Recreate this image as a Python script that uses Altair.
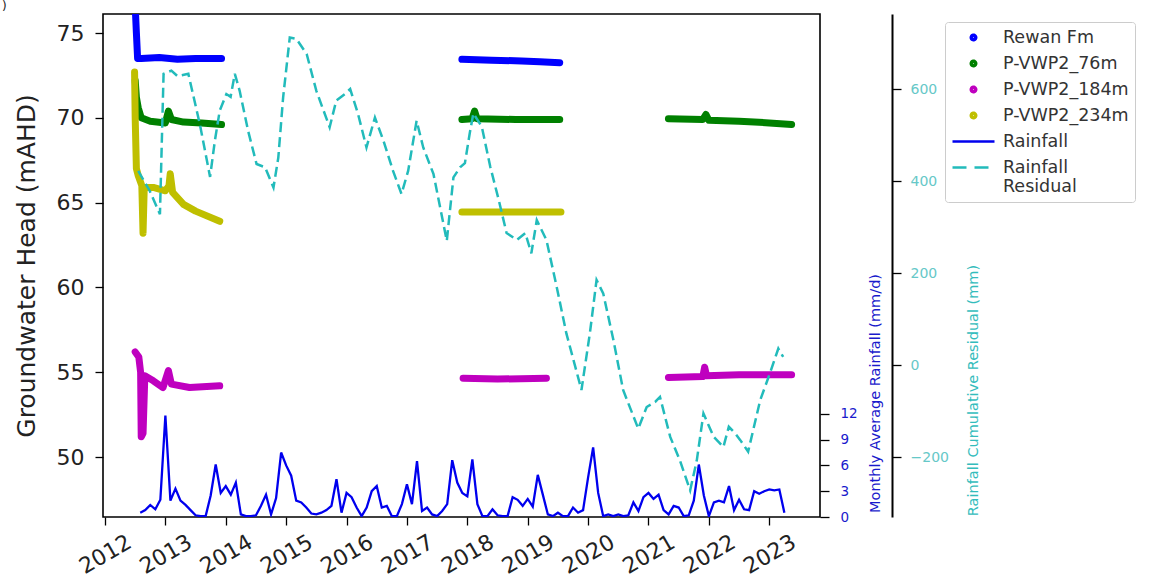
import altair as alt
import pandas as pd

FONT = "DejaVu Sans"

# ---------------------------------------------------------------------------
# Groundwater heads (decimal year, head in mAHD), one pair of lists per
# logger deployment
# ---------------------------------------------------------------------------
rewan_a_t = [2012.50, 2012.52, 2012.54, 2012.60, 2012.9, 2013.2, 2013.5, 2013.93]
rewan_a_v = [76.6, 75.0, 73.5, 73.5, 73.55, 73.45, 73.5, 73.5]
rewan_b_t = [2017.91, 2018.4, 2018.9, 2019.2, 2019.53]
rewan_b_v = [73.45, 73.4, 73.35, 73.3, 73.25]

vwp76_a_t = [2012.50, 2012.52, 2012.55, 2012.60, 2012.75, 2013.0, 2013.05, 2013.1, 2013.3, 2013.6, 2013.93]
vwp76_a_v = [72.2, 71.2, 70.6, 70.0, 69.8, 69.7, 70.4, 69.9, 69.75, 69.7, 69.6]
vwp76_b_t = [2017.91, 2018.08, 2018.12, 2018.16, 2018.8, 2019.53]
vwp76_b_v = [69.9, 69.95, 70.4, 69.95, 69.9, 69.9]
vwp76_c_t = [2021.33, 2021.9, 2021.95, 2022.0, 2022.5, 2023.0, 2023.37]
vwp76_c_v = [69.95, 69.9, 70.2, 69.85, 69.8, 69.7, 69.6]

vwp184_a_t = [2012.50, 2012.56, 2012.59, 2012.60, 2012.63, 2012.66, 2012.8, 2012.96, 2013.05, 2013.1, 2013.4, 2013.9]
vwp184_a_v = [56.2, 55.9, 55.0, 51.2, 51.4, 54.8, 54.5, 54.1, 55.1, 54.3, 54.1, 54.2]
vwp184_b_t = [2017.93, 2018.5, 2019.31]
vwp184_b_v = [54.65, 54.6, 54.65]
vwp184_c_t = [2021.33, 2021.9, 2021.93, 2021.96, 2022.5, 2023.37]
vwp184_c_v = [54.7, 54.75, 55.3, 54.8, 54.85, 54.85]

vwp234_a_t = [2012.49, 2012.50, 2012.52, 2012.55, 2012.61, 2012.63, 2012.65, 2012.8, 2013.0, 2013.06, 2013.08, 2013.12, 2013.3, 2013.5, 2013.9]
vwp234_a_v = [72.7, 70.0, 67.0, 66.6, 66.0, 63.2, 65.9, 65.9, 65.7, 66.0, 66.7, 65.6, 64.9, 64.5, 63.9]
vwp234_b_t = [2017.91, 2018.7, 2019.55]
vwp234_b_v = [64.45, 64.45, 64.45]

# ---------------------------------------------------------------------------
# Monthly average rainfall (mm/d), Aug 2012 .. Apr 2023
# ---------------------------------------------------------------------------
rain_start = 2012 + 7 / 12
rain_mm_d = [
    0.5, 0.8, 1.4, 0.9, 2.0,                                        # 2012 Aug-Dec
    11.8, 1.9, 3.3, 1.9, 1.4, 0.8, 0.2, 0.1, 0.1, 2.5, 6.1, 2.8,    # 2013
    3.6, 2.6, 4.0, 0.3, 0.1, 0.1, 0.2, 1.3, 2.6, 0.3, 2.2, 7.5,     # 2014
    6.0, 4.8, 1.9, 1.7, 1.1, 0.4, 0.3, 0.5, 0.8, 1.3, 4.4, 0.5,     # 2015
    2.8, 2.3, 1.1, 0.1, 1.1, 3.0, 3.6, 1.1, 1.3, 0.1, 0.1, 1.5,     # 2016
    3.8, 1.5, 6.5, 0.7, 1.1, 0.3, 0.1, 0.7, 1.5, 6.6, 4.0, 2.8,     # 2017
    2.4, 6.7, 1.5, 0.1, 0.1, 0.9, 0.2, 0.1, 0.1, 2.3, 2.0, 1.3,     # 2018
    2.1, 1.2, 4.9, 2.6, 0.3, 0.1, 0.5, 0.1, 0.1, 1.1, 0.5, 0.8,     # 2019
    4.6, 8.1, 2.8, 0.1, 0.3, 0.1, 0.3, 0.1, 0.2, 1.7, 0.7, 2.3,     # 2020
    2.8, 2.1, 2.6, 0.8, 0.3, 1.3, 1.1, 0.1, 0.2, 1.9, 6.1, 2.5,     # 2021
    0.1, 1.7, 1.9, 1.7, 3.6, 0.8, 2.0, 0.9, 0.8, 3.0, 2.7, 3.0,     # 2022
    3.2, 3.1, 3.2, 0.5,                                             # 2023 Jan-Apr
]

# ---------------------------------------------------------------------------
# Rainfall cumulative residual (decimal year, mm)
# ---------------------------------------------------------------------------
resid_t = [
    2012.55, 2012.74, 2012.91, 2012.97, 2013.10, 2013.20, 2013.38, 2013.57, 2013.74, 2013.82,
    2013.90, 2014.01, 2014.08, 2014.15, 2014.23, 2014.37, 2014.51, 2014.65, 2014.79, 2014.87,
    2014.95, 2015.06, 2015.17, 2015.34, 2015.50, 2015.72, 2015.83, 2015.97, 2016.06, 2016.19,
    2016.33, 2016.47, 2016.61, 2016.77, 2016.91, 2017.02, 2017.16, 2017.27, 2017.44, 2017.66,
    2017.77, 2017.88, 2017.96, 2018.04, 2018.10, 2018.24, 2018.38, 2018.52, 2018.65, 2018.82,
    2018.96, 2019.06, 2019.15, 2019.31, 2019.48, 2019.64, 2019.89, 2020.03, 2020.14, 2020.25,
    2020.42, 2020.58, 2020.83, 2020.97, 2021.11, 2021.19, 2021.36, 2021.52, 2021.69, 2021.80,
    2021.91, 2022.08, 2022.24, 2022.33, 2022.44, 2022.52, 2022.65, 2022.85, 2023.01, 2023.15,
    2023.23,
]
resid_mm = [
    422, 379, 328, 633, 640, 628, 633, 524, 409, 488,
    553, 589, 583, 633, 596, 509, 437, 430, 386, 451,
    582, 712, 709, 676, 596, 517, 575, 589, 600, 546,
    473, 538, 488, 422, 372, 422, 531, 473, 415, 270,
    408, 430, 439, 504, 547, 518, 431, 359, 287, 272,
    287, 243, 315, 272, 170, 69, -54, 70, 185, 156,
    54, -54, -138, -91, -80, -69, -156, -207, -272, -207,
    -105, -156, -178, -134, -149, -163, -188, -76, -18, 36,
    18,
]

# panel tag shown in the upper-left corner
panel_tag = [")"]

# ---------------------------------------------------------------------------
# Series, colours and legend key symbols
# ---------------------------------------------------------------------------
SERIES = ["Rewan Fm", "P-VWP2_76m", "P-VWP2_184m", "P-VWP2_234m", "Rainfall", "Rainfall Residual"]
COLORS = ["#0000ff", "#008000", "#bf00bf", "#bfbf00", "#0000ee", "#22bbbb"]
# small solid dot drawn as concentric rings so the outline stroke fills it
DOT = (
    "M-0.13,0A0.13,0.13 0 1,0 0.13,0A0.13,0.13 0 1,0 -0.13,0Z"
    "M-0.085,0A0.085,0.085 0 1,0 0.085,0A0.085,0.085 0 1,0 -0.085,0Z"
    "M-0.04,0A0.04,0.04 0 1,0 0.04,0A0.04,0.04 0 1,0 -0.04,0Z"
)
KEY_SHAPES = [DOT, DOT, DOT, DOT, "stroke", "stroke"]
KEY_DASHES = [[1, 0], [1, 0], [1, 0], [1, 0], [1, 0], [14, 8]]

segments = [
    ("Rewan Fm", rewan_a_t, rewan_a_v),
    ("Rewan Fm", rewan_b_t, rewan_b_v),
    ("P-VWP2_76m", vwp76_a_t, vwp76_a_v),
    ("P-VWP2_76m", vwp76_b_t, vwp76_b_v),
    ("P-VWP2_76m", vwp76_c_t, vwp76_c_v),
    ("P-VWP2_184m", vwp184_a_t, vwp184_a_v),
    ("P-VWP2_184m", vwp184_b_t, vwp184_b_v),
    ("P-VWP2_184m", vwp184_c_t, vwp184_c_v),
    ("P-VWP2_234m", vwp234_a_t, vwp234_a_v),
    ("P-VWP2_234m", vwp234_b_t, vwp234_b_v),
]
head_rows = []
for k, (name, ts, vs) in enumerate(segments):
    for i, (t, v) in enumerate(zip(ts, vs)):
        head_rows.append({"series": name, "seg": k, "i": i, "t": t, "v": v})
heads_df = pd.DataFrame(head_rows)

rain_df = pd.DataFrame({
    "series": "Rainfall",
    "t": [rain_start + i / 12 for i in range(len(rain_mm_d))],
    "r": rain_mm_d,
})
resid_df = pd.DataFrame({"series": "Rainfall Residual", "t": resid_t, "c": resid_mm})
key_df = pd.DataFrame({"series": SERIES})
tag_df = pd.DataFrame({"tag": panel_tag})

# ---------------------------------------------------------------------------
# Shared encodings
# ---------------------------------------------------------------------------
x_enc = alt.X(
    "t:Q",
    scale=alt.Scale(domain=[2011.967, 2023.84], nice=False, zero=False),
    axis=alt.Axis(
        values=list(range(2012, 2024)), format="d", title=None, grid=False, domain=False,
        tickSize=8, tickWidth=1.3, tickColor="black",
        labelAngle=-30, labelAlign="center", labelBaseline="middle", labelPadding=29,
        labelFontSize=22, labelColor="#222222", labelOverlap=False, labelFlush=False,
    ),
)

key_legend = alt.Legend(
    title=None, orient="none", legendX=842, legendY=8, direction="vertical",
    fillColor="white", strokeColor="#cccccc", padding=6, cornerRadius=3,
    labelFontSize=17.5, labelColor="#333333", labelLimit=300,
    symbolSize=1764, symbolStrokeWidth=2.5, clipHeight=19,
    symbolOffset=0, labelOffset=7, rowPadding=7,
    labelExpr="datum.label == 'Rainfall Residual' ? ['Rainfall', 'Residual'] : datum.label",
)
color_scale = alt.Scale(domain=SERIES, range=COLORS)
color_enc = alt.Color("series:N", scale=color_scale, legend=key_legend)

heads = alt.Chart(heads_df).mark_line(
    strokeWidth=7, strokeCap="round", strokeJoin="round", clip=True
).encode(
    x=x_enc,
    y=alt.Y(
        "v:Q",
        scale=alt.Scale(domain=[46.47, 76.12], nice=False, zero=False),
        axis=alt.Axis(
            values=[50, 55, 60, 65, 70, 75], grid=False, domain=False,
            tickSize=8, tickWidth=1.3, tickColor="black",
            labelFontSize=22, labelColor="#222222", labelPadding=11,
            title="Groundwater Head (mAHD)", titleFontSize=25, titleFontWeight="normal",
            titleColor="#222222", titleAngle=270, titleAlign="center", titleBaseline="middle",
            titleX=-77, titleY=251.5,
        ),
    ),
    color=color_enc,
    detail="seg:N",
    order="i:Q",
)

rain = alt.Chart(rain_df).mark_line(strokeWidth=2.3, clip=True).encode(
    x=x_enc,
    y=alt.Y(
        "r:Q",
        scale=alt.Scale(domain=[0, 58.5], nice=False, zero=False),
        axis=alt.Axis(
            orient="right", values=[0, 3, 6, 9, 12], grid=False, domain=False,
            tickSize=9, tickWidth=1.3, tickColor="black",
            labelFontSize=13.5, labelColor="#1a1acc", labelPadding=11,
            title="Monthly Average Rainfall (mm/d)", titleFontSize=14.5, titleFontWeight="normal",
            titleColor="#1a1acc", titleAngle=270, titleAlign="center", titleBaseline="middle",
            titleX=55, titleY=379,
        ),
    ),
    color=color_enc,
)

resid = alt.Chart(resid_df).mark_line(strokeWidth=2.5, strokeDash=[10, 5], clip=True).encode(
    x=x_enc,
    y=alt.Y(
        "c:Q",
        scale=alt.Scale(domain=[-330, 763], nice=False, zero=False),
        axis=alt.Axis(
            orient="right", offset=72, values=[-200, 0, 200, 400, 600], grid=False,
            domain=True, domainColor="black", domainWidth=2,
            tickSize=9, tickWidth=1.3, tickColor="black",
            labelFontSize=14, labelColor="#66c8c8", labelPadding=9,
            labelExpr="replace(datum.label, '-', '\u2212')",
            title="Rainfall Cumulative Residual (mm)", titleFontSize=14.5, titleFontWeight="normal",
            titleColor="#33bcbc", titleAngle=270, titleAlign="center", titleBaseline="middle",
            titleX=81, titleY=376,
        ),
    ),
    color=color_enc,
)

# Legend key: an empty point layer carrying colour, symbol shape and dash
key = alt.Chart(key_df).transform_filter("false").mark_point(
    filled=False, strokeWidth=2.5, opacity=1
).encode(
    color=color_enc,
    shape=alt.Shape("series:N", scale=alt.Scale(domain=SERIES, range=KEY_SHAPES), legend=key_legend),
    strokeDash=alt.StrokeDash("series:N", scale=alt.Scale(domain=SERIES, range=KEY_DASHES), legend=key_legend),
)

# panel tag in the top-left margin
tag = alt.Chart(tag_df).mark_text(
    align="left", baseline="top", fontSize=12, font=FONT, color="#222222"
).encode(text="tag:N", x=alt.value(-101), y=alt.value(-13))

chart = (
    alt.layer(heads, rain, resid, key, tag)
    .resolve_scale(y="independent")
    .properties(
        width=717, height=503,
        padding={"left": 103, "top": 14, "right": 330, "bottom": 69},
        autosize=alt.AutoSizeParams(type="none"),
        background="white",
    )
    .configure_view(stroke="black", strokeWidth=1.6)
    .configure_axis(labelFont=FONT, titleFont=FONT)
    .configure_legend(labelFont=FONT, titleFont=FONT)
)

chart.save("out.html", embed_options={"renderer": "svg", "actions": False})
